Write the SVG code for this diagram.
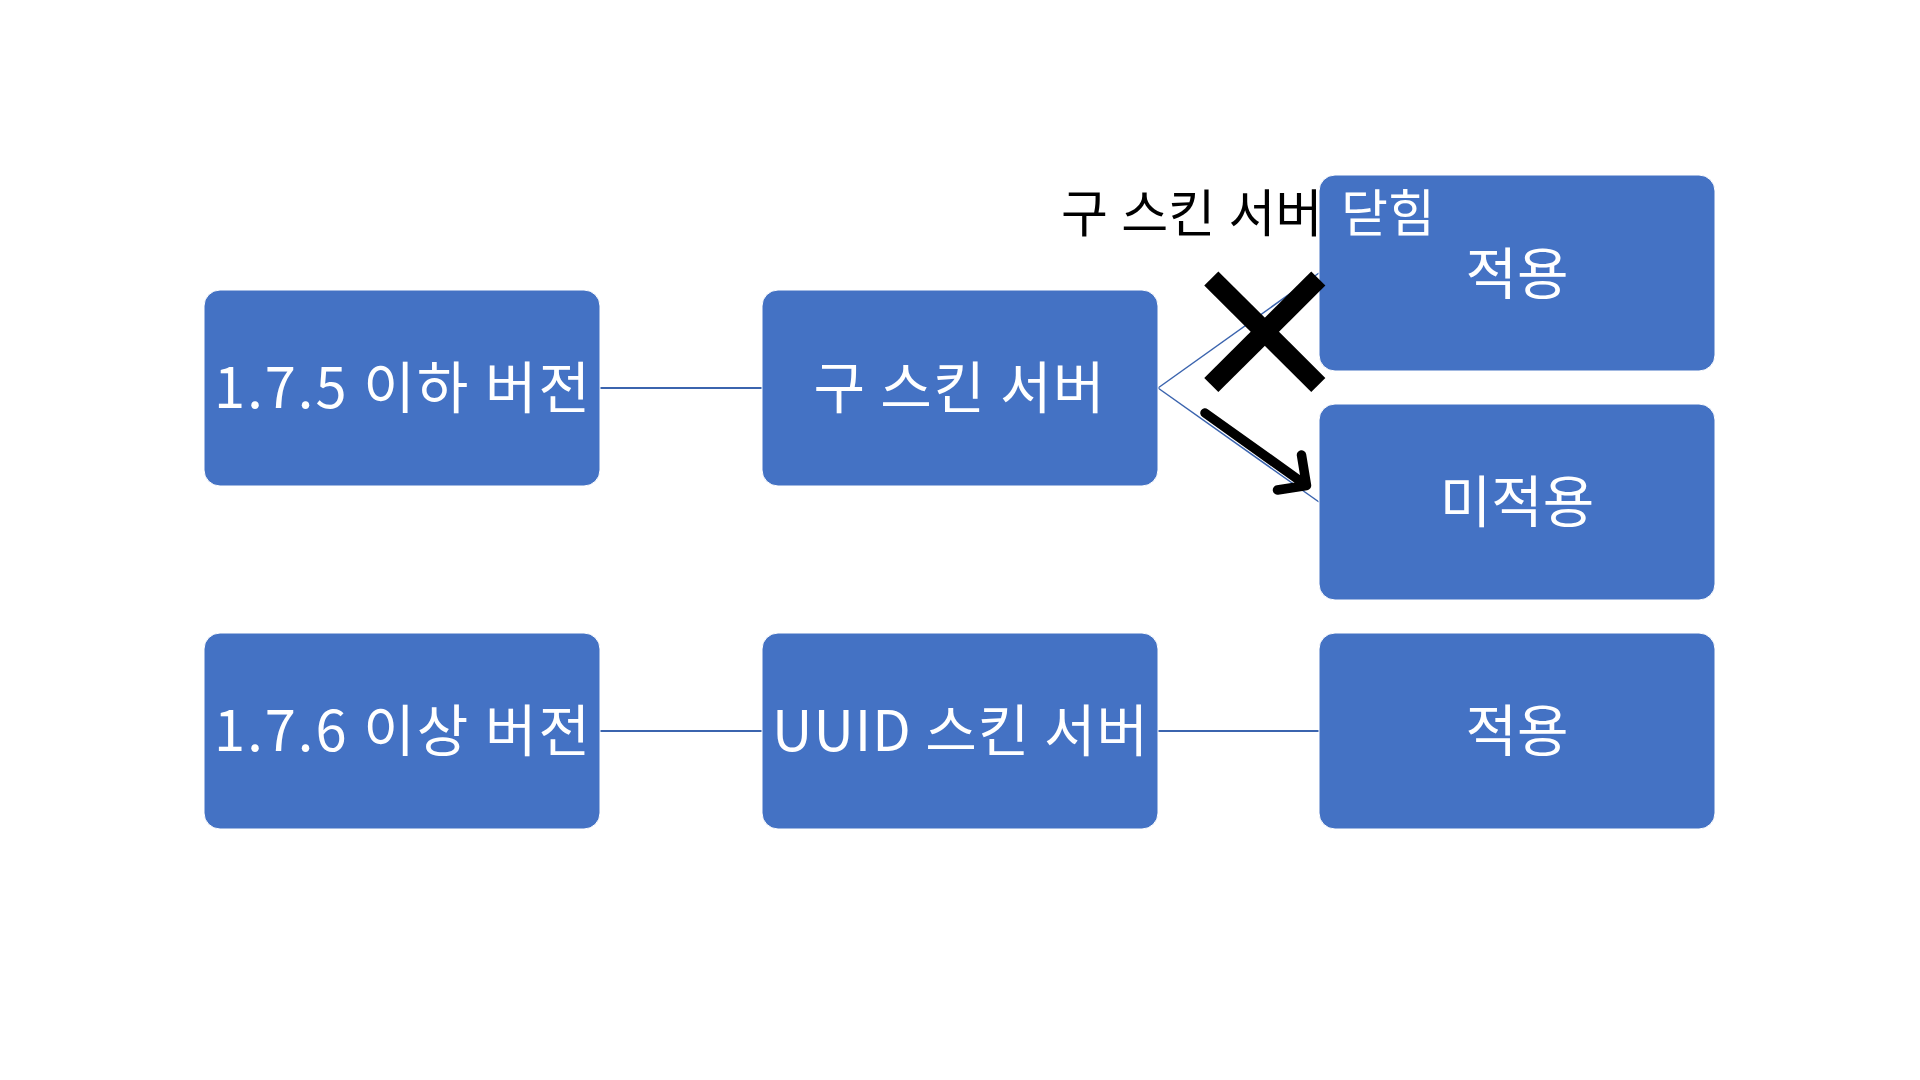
<svg xmlns="http://www.w3.org/2000/svg" width="1920" height="1080" viewBox="0 0 1920 1080">
<style>
.box{fill:#4472C4;stroke:#ffffff;stroke-width:1}
.t{font-family:"Noto Sans CJK KR","Noto Sans",sans-serif;font-size:56px;fill:#ffffff;text-anchor:middle}
.c{stroke:#3B64AE;fill:none}
.lbl{font-family:"Noto Sans CJK KR","Noto Sans",sans-serif;font-size:51px;fill:#000000}
</style>
<rect width="1920" height="1080" fill="#ffffff"/>
<g id="connectors">
<line class="c" x1="600" y1="388" x2="762" y2="388" stroke-width="2"/>
<line class="c" x1="1158" y1="388" x2="1319" y2="273" stroke-width="1.5"/>
<line class="c" x1="1158" y1="388" x2="1319" y2="502" stroke-width="1.5"/>
<line class="c" x1="600" y1="731" x2="762" y2="731" stroke-width="2"/>
<line class="c" x1="1158" y1="731" x2="1319" y2="731" stroke-width="2"/>
</g>
<g id="n-old-version">
<rect class="box" x="204" y="290" width="396" height="196" rx="16"/>
<text class="t" x="402" y="408" textLength="376" lengthAdjust="spacing">1.7.5 이하 버전</text>
</g>
<g id="n-old-server">
<rect class="box" x="762" y="290" width="396" height="196" rx="16"/>
<text class="t" x="959" y="408" textLength="291" lengthAdjust="spacing">구 스킨 서버</text>
</g>
<g id="n-applied-1">
<rect class="box" x="1319" y="175" width="396" height="196" rx="16"/>
<text class="t" x="1517" y="294">적용</text>
</g>
<g id="n-not-applied">
<rect class="box" x="1319" y="404" width="396" height="196" rx="16"/>
<text class="t" x="1517" y="522">미적용</text>
</g>
<g id="n-new-version">
<rect class="box" x="204" y="633" width="396" height="196" rx="16"/>
<text class="t" x="402" y="751" textLength="376" lengthAdjust="spacing">1.7.6 이상 버전</text>
</g>
<g id="n-uuid-server">
<rect class="box" x="762" y="633" width="396" height="196" rx="16"/>
<text class="t" x="960" y="751" textLength="376" lengthAdjust="spacing">UUID 스킨 서버</text>
</g>
<g id="n-applied-2">
<rect class="box" x="1319" y="633" width="396" height="196" rx="16"/>
<text class="t" x="1517" y="751">적용</text>
</g>
<g id="label">
<text class="lbl" x="1061" y="232"><tspan word-spacing="2">구 스킨 서버</tspan><tspan x="1341" fill="#ffffff">닫힘</tspan></text>
</g>
<g id="marks" stroke="#000000" fill="none">
<line x1="1211.3" y1="278.5" x2="1318.3" y2="385" stroke-width="20"/>
<line x1="1318.3" y1="278.5" x2="1211.3" y2="385" stroke-width="20"/>
<path d="M1205,413 L1306.5,485.5 M1301.5,455 L1306.5,485.5 L1277.5,490" stroke-width="9.5" stroke-linecap="round" stroke-linejoin="round"/>
</g>
</svg>
